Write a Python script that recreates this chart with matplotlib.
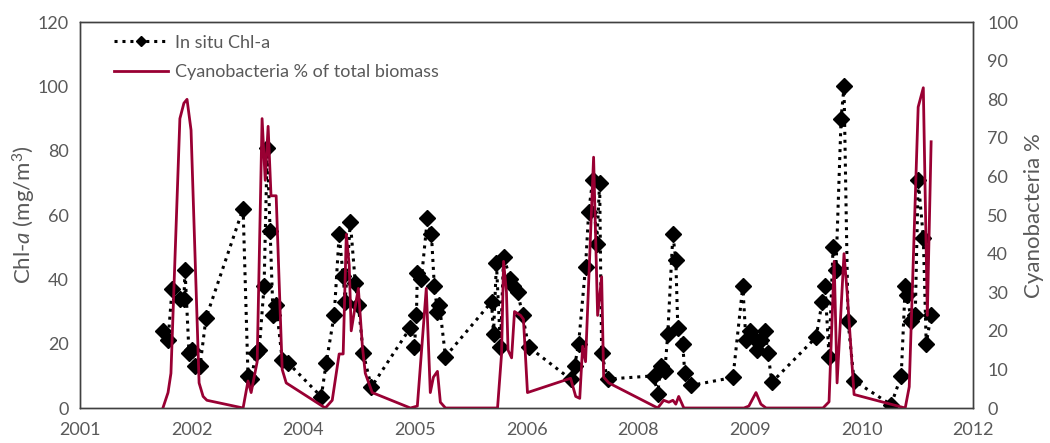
import numpy as np
import pandas as pd
import matplotlib
matplotlib.use("Agg")
import matplotlib.pyplot as plt

plt.rcParams['font.family'] = ['Lato', 'DejaVu Sans']
plt.rcParams['mathtext.fontset'] = 'custom'
plt.rcParams['mathtext.rm'] = 'Lato'
plt.rcParams['mathtext.it'] = 'Lato:italic'

# Excel date serials
chl_dates = [37372, 37395, 37413, 37448, 37466, 37471, 37489, 37502, 37516, 37538, 37565,
             37731, 37753, 37767, 37789, 37803, 37825, 37839, 37852, 37865, 37879, 37906, 37933,
             38081, 38103, 38139, 38161, 38179, 38188, 38211, 38233, 38247, 38269, 38305,
             38480, 38498, 38507, 38511, 38529, 38556, 38574, 38587, 38601, 38610, 38637,
             38843, 38852, 38865, 38883, 38897, 38928, 38937, 38960, 38982, 39009,
             39197, 39215, 39233, 39264, 39278, 39296, 39314, 39327, 39336, 39363,
             39569, 39587, 39601, 39619, 39632, 39655, 39668, 39677, 39699, 39708, 39735,
             39924, 39968, 39982, 40000, 40013, 40031, 40049, 40067, 40081, 40098,
             40296, 40323, 40336, 40354, 40372, 40385, 40408, 40421, 40439, 40466,
             40632, 40677, 40695, 40704, 40722, 40740, 40753, 40776, 40789, 40811]
chl_values = [24, 21, 37, 34, 34, 43, 17, 18, 13, 13, 28,
              62, 10, 9, 17, 18, 38, 81, 55, 29, 32, 15, 14,
              3.5, 14, 29, 54, 41, 33, 58, 39, 32, 17, 6.5,
              25, 19, 29, 42, 40, 59, 54, 38, 30, 32, 16,
              33, 23, 45, 19, 47, 40, 38, 36, 29, 19,
              9, 13, 20, 44, 61, 71, 51, 70, 17, 9,
              10, 4.5, 13, 11.5, 23, 54, 46, 25, 20, 11, 7,
              9.5, 38, 21, 24, 22, 18, 21, 24, 17, 8,
              22, 33, 38, 16, 50, 43, 90, 100, 27, 8.5,
              1, 10, 38, 35, 27, 29, 71, 53, 20, 29]

cyano_dates = [37372, 37395, 37408, 37448, 37466, 37480, 37498, 37534, 37552, 37569,
               37731, 37753, 37767, 37794, 37816, 37830, 37843, 37856, 37879, 37906, 37924,
               38099, 38130, 38161, 38179, 38193, 38206, 38215, 38229, 38247, 38265, 38278, 38309,
               38480, 38511, 38551, 38569, 38583, 38601, 38614, 38637,
               38870, 38888, 38897, 38910, 38917, 38933, 38946, 38973, 38986, 39004,
               39197, 39220, 39238, 39251, 39264, 39300, 39318, 39336, 39345, 39368,
               39587, 39614, 39637, 39655, 39668, 39681, 39704,
               39973, 39995, 40027, 40049, 40072,
               40327, 40354, 40377, 40390, 40421, 40435, 40466,
               40695, 40713, 40753, 40776, 40794, 40811]
cyano_values = [0, 4, 9, 75, 79, 80, 72, 6.5, 3, 2,
                0, 7, 4, 12, 75, 59, 73, 55, 55, 10, 6.5,
                0, 2, 14, 14, 45, 37, 20, 25, 31, 16, 9, 4,
                0, 0.5, 31, 4, 8, 9.5, 1.5, 0,
                0, 14, 38, 30, 15, 13, 25, 24, 23, 4,
                7.7, 3, 2.5, 16, 12, 65, 24, 34, 8, 6.5,
                0, 2, 1.5, 2, 1, 3, 0,
                0, 0.5, 4, 1, 0,
                0, 1.6, 38, 6.5, 40, 30, 3.5,
                0, 5.5, 78, 83, 24, 69]

x_min, x_max, x_step = 37000, 41000, 500


def to_date(serial):
    return pd.to_datetime(np.asarray(serial), unit="D", origin="1899-12-30")


grey = "#595959"
crimson = "#990033"

fig = plt.figure(figsize=(10.5, 4.43), dpi=100)
ax = fig.add_axes([0.076, 0.079, 0.851, 0.871])
ax2 = ax.twinx()

l1, = ax.plot(to_date(chl_dates), chl_values, color="black", linestyle=(0, (1, 1.6)),
              linewidth=2.2, marker="D", markersize=8.5, label="In situ Chl-a")
l2, = ax2.plot(to_date(cyano_dates), cyano_values, color=crimson, linewidth=2.0,
               label="Cyanobacteria % of total biomass")

ticks = to_date(np.arange(x_min, x_max + 1, x_step))
ax.set_xlim(to_date(x_min), to_date(x_max))
ax.set_xticks(ticks)
ax.set_xticklabels([str(t.year) for t in ticks])

ax.set_ylim(0, 120)
ax.set_yticks(np.arange(0, 121, 20))
ax2.set_ylim(0, 100)
ax2.set_yticks(np.arange(0, 101, 10))

for a in (ax, ax2):
    a.tick_params(length=0, labelsize=13, labelcolor=grey)
    for s in a.spines.values():
        s.set_color("#404040")
        s.set_linewidth(1.0)
ax.tick_params(axis="x", pad=10)
ax.tick_params(axis="y", pad=8)
ax2.tick_params(axis="y", pad=10)

ax.set_ylabel("Chl-$a$ (mg/m$^3$)", fontsize=16, color=grey, labelpad=0)
ax2.set_ylabel("Cyanobacteria %", fontsize=16, color=grey, labelpad=4)

ax2.legend([l1, l2], [l1.get_label(), l2.get_label()], loc="upper left",
           bbox_to_anchor=(0.02, 1.01), frameon=False, fontsize=13, labelcolor=grey,
           handlelength=3.0, handletextpad=0.4, labelspacing=0.75, numpoints=1,
           markerscale=0.6)

fig.savefig("out.png", dpi=100)
